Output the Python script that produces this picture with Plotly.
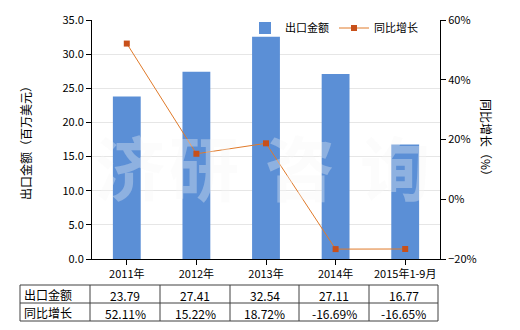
import plotly.graph_objects as go

categories = ["2011年", "2012年", "2013年", "2014年", "2015年1-9月"]
export_values = [23.79, 27.41, 32.54, 27.11, 16.77]
growth_values = [52.11, 15.22, 18.72, -16.69, -16.65]
export_labels = ["23.79", "27.41", "32.54", "27.11", "16.77"]
growth_labels = ["52.11%", "15.22%", "18.72%", "-16.69%", "-16.65%"]

FONT = "Noto Sans CJK SC"
W, H = 520, 330
L, R, T, B = 92, 80, 20, 71
PW, PH = W - L - R, H - T - B

def px(x):
    return (x - L) / PW

def py(y):
    return (H - B - y) / PH

fig = go.Figure()
fig.add_trace(go.Bar(
    x=categories, y=export_values, name="出口金额",
    marker=dict(color="#5B8FD6", line=dict(width=0)), width=0.4,
    yaxis="y"))
fig.add_trace(go.Scatter(
    x=categories, y=growth_values, name="同比增长", mode="lines+markers",
    line=dict(color="#E07A2A", width=1),
    marker=dict(symbol="square", size=6, color="#C8501A"),
    yaxis="y2"))

shapes = []
col_x = [20, 90, 160, 230, 299, 369, 438]
row_y = [285, 303, 321]
for yv in row_y:
    shapes.append(dict(type="line", xref="paper", yref="paper",
                       x0=px(col_x[0]), x1=px(col_x[-1]), y0=py(yv), y1=py(yv),
                       line=dict(color="#404040", width=1)))
for xv in col_x:
    shapes.append(dict(type="line", xref="paper", yref="paper",
                       x0=px(xv), x1=px(xv), y0=py(row_y[0]), y1=py(row_y[-1]),
                       line=dict(color="#404040", width=1)))

annotations = []
# watermark (drawn first, above the bars)
for ch, xv in zip(["济", "研", "咨", "询"], [130, 204, 300, 395]):
    annotations.append(dict(text="<b>" + ch + "</b>", xref="paper", yref="paper",
                            x=px(xv), y=py(165), showarrow=False,
                            xanchor="center", yanchor="middle",
                            font=dict(family=FONT, size=70, color="rgba(245,245,245,0.33)")))
for i, lab in enumerate(["出口金额", "同比增长"]):
    annotations.append(dict(text=lab, xref="paper", yref="paper",
                            x=px(22), y=py((row_y[i] + row_y[i + 1]) / 2),
                            xanchor="left", yanchor="middle", showarrow=False,
                            font=dict(family=FONT, size=12, color="#000")))
for j in range(len(categories)):
    cx = (col_x[j + 1] + col_x[j + 2]) / 2
    for i, lab in enumerate([export_labels[j], growth_labels[j]]):
        annotations.append(dict(text=lab, xref="paper", yref="paper",
                                x=px(cx), y=py((row_y[i] + row_y[i + 1]) / 2 + 1),
                                xanchor="center", yanchor="middle", showarrow=False,
                                font=dict(family=FONT, size=12, color="#000")))
annotations.append(dict(text="出口金额（百万美元）", xref="paper", yref="paper",
                        x=px(25), y=py(140), textangle=-90, showarrow=False,
                        xanchor="center", yanchor="middle",
                        font=dict(family=FONT, size=12, color="#000")))
annotations.append(dict(text="同比增长（%）", xref="paper", yref="paper",
                        x=px(487), y=py(140), textangle=90, showarrow=False,
                        xanchor="center", yanchor="middle",
                        font=dict(family=FONT, size=12, color="#000")))

fig.update_layout(
    width=W, height=H,
    margin=dict(l=L, r=R, t=T, b=B),
    paper_bgcolor="white", plot_bgcolor="white",
    font=dict(family=FONT, size=11, color="#000"),
    showlegend=True,
    legend=dict(orientation="h", x=px(245), y=py(28), xanchor="left", yanchor="middle",
                font=dict(family=FONT, size=11), bgcolor="rgba(0,0,0,0)",
                itemwidth=30, tracegroupgap=0),
    xaxis=dict(type="category", showline=True, linecolor="#000", linewidth=1,
               ticks="outside", ticklen=5, tickcolor="#000",
               tickfont=dict(family=FONT, size=11), mirror=False, showgrid=False),
    yaxis=dict(range=[0, 35], dtick=5, tickformat=".1f", showline=True,
               linecolor="#000", linewidth=1, ticks="outside", ticklen=5,
               tickcolor="#000", showgrid=True, gridcolor="#E6E6E6",
               tickfont=dict(family=FONT, size=11), zeroline=False),
    yaxis2=dict(range=[-20, 60], dtick=20, ticksuffix="%", overlaying="y",
                side="right", showline=True, linecolor="#000", linewidth=1,
                ticks="outside", ticklen=5, tickcolor="#000", showgrid=False,
                tickfont=dict(family=FONT, size=11), zeroline=False),
    bargap=0.6,
    shapes=shapes, annotations=annotations,
)

fig.write_html("out.html")
